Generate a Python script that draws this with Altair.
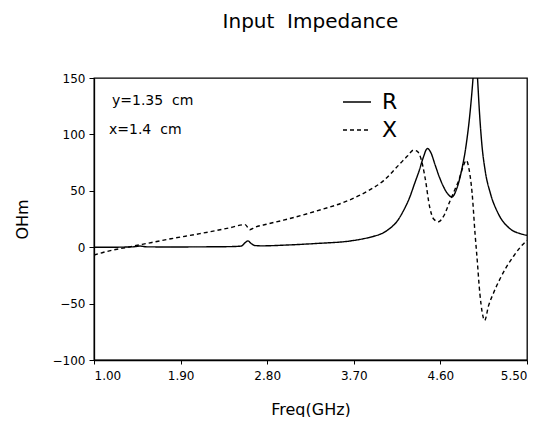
import altair as alt
import pandas as pd

# ---- data ----
freq_r = [1.00, 1.20, 1.40, 1.48, 1.55, 1.80, 2.10, 2.40, 2.53, 2.57, 2.60, 2.63, 2.67,
          2.75, 2.97, 3.31, 3.66, 3.80, 3.90, 4.00, 4.08, 4.15, 4.22, 4.28, 4.33, 4.38,
          4.42, 4.465, 4.50, 4.545, 4.59, 4.63, 4.67, 4.72, 4.77, 4.82, 4.87, 4.91,
          4.94, 4.962, 4.985, 5.005, 5.03, 5.065, 5.12, 5.20, 5.32, 5.43, 5.50]
r_vals = [0.0, 0.0, 0.3, 1.0, 0.3, 0.2, 0.3, 0.5, 1.0, 4.0, 5.6, 3.5, 1.5,
          1.2, 1.8, 3.3, 5.5, 7.5, 9.5, 12.5, 17.0, 23.0, 33.0, 44.0, 56.0, 68.0,
          79.0, 87.5, 84.0, 73.0, 62.0, 54.0, 48.0, 44.6, 52.0, 68.0, 92.0, 121.0,
          151.0, 180.0, 151.0, 121.0, 92.0, 68.0, 47.6, 30.0, 16.6, 12.0, 10.5]

freq_x = [1.00, 1.10, 1.20, 1.35, 1.50, 1.80, 2.10, 2.40, 2.57, 2.62, 2.67, 2.80, 2.97,
          3.31, 3.66, 3.85, 4.01, 4.18, 4.26, 4.32, 4.36, 4.40, 4.44, 4.49, 4.53, 4.58,
          4.63, 4.70, 4.75, 4.79, 4.83, 4.87, 4.90, 4.93, 4.96, 4.98, 5.01, 5.035, 5.06,
          5.10, 5.15, 5.22, 5.29, 5.36, 5.43, 5.50]
x_vals = [-7.0, -4.5, -2.5, 0.0, 2.5, 7.5, 12.0, 17.0, 20.0, 15.5, 17.5, 20.5, 24.0,
          32.0, 42.0, 50.0, 59.0, 74.0, 81.0, 86.0, 85.0, 78.0, 62.0, 35.0, 25.0, 22.5,
          27.0, 41.0, 51.0, 59.0, 70.0, 77.0, 68.0, 47.6, 12.0, -8.6, -41.0, -58.0, -65.0,
          -52.0, -41.0, -28.0, -17.0, -8.0, 0.0, 6.0]

series_names = ["R", "X"]
x_ticks = [1.00, 1.90, 2.80, 3.70, 4.60, 5.50]
y_ticks = [-100, -50, 0, 50, 100, 150]
annotations = ["y=1.35\u00a0 cm", "x=1.4\u00a0 cm"]
title_text = "Input\u00a0 Impedance"

df = pd.concat([
    pd.DataFrame({"freq": freq_r, "ohm": r_vals, "series": series_names[0]}),
    pd.DataFrame({"freq": freq_x, "ohm": x_vals, "series": series_names[1]}),
], ignore_index=True)

FONT = "DejaVu Sans"

lines = alt.Chart(df).mark_line(
    color="black", strokeWidth=1.4, clip=True, interpolate="monotone"
).encode(
    x=alt.X("freq:Q",
            scale=alt.Scale(domain=[1.0, 5.5], nice=False, zero=False),
            axis=alt.Axis(values=x_ticks, format=".2f", title="Freq(GHz)",
                          labelFontSize=12, titleFontSize=16, tickSize=4,
                          labelPadding=6, titlePadding=20)),
    y=alt.Y("ohm:Q",
            scale=alt.Scale(domain=[-100, 150], nice=False),
            axis=alt.Axis(values=y_ticks, title="OHm", labelFontSize=12,
                          titleFontSize=16, tickSize=5, labelPadding=4,
                          titlePadding=22)),
    strokeDash=alt.StrokeDash(
        "series:N",
        scale=alt.Scale(domain=series_names, range=[[1, 0], [4, 3]]),
        legend=alt.Legend(orient="none", legendX=248, legendY=9, title=None,
                          symbolType="stroke", symbolStrokeColor="black",
                          symbolStrokeWidth=1.6, symbolSize=784,
                          labelFontSize=22, labelFont=FONT, labelColor="black",
                          labelOffset=10, rowPadding=2, padding=0)),
    detail="series:N",
)

ann1 = alt.Chart(pd.DataFrame({"t": [annotations[0]]})).mark_text(
    align="left", baseline="middle", fontSize=14, font=FONT, color="black"
).encode(x=alt.value(18), y=alt.value(23), text="t:N")

ann2 = alt.Chart(pd.DataFrame({"t": [annotations[1]]})).mark_text(
    align="left", baseline="middle", fontSize=14, font=FONT, color="black"
).encode(x=alt.value(15), y=alt.value(52), text="t:N")

chart = alt.layer(lines, ann1, ann2).properties(
    width=433, height=282,
    autosize=alt.AutoSizeParams(type="none"),
    padding={"left": 86, "top": 70, "right": 18, "bottom": 57},
    title=alt.TitleParams(title_text, fontSize=20, font=FONT, fontWeight="normal",
                          anchor="middle", offset=40, color="black"),
).configure_view(
    stroke="black", strokeWidth=1.3
).configure_axis(
    domainColor="black", tickColor="black", labelColor="black", titleColor="black",
    grid=False, labelFont=FONT, titleFont=FONT, titleFontWeight="normal",
    domainWidth=1.3
)

chart.save("out.html", embed_options={"renderer": "svg", "actions": False})
